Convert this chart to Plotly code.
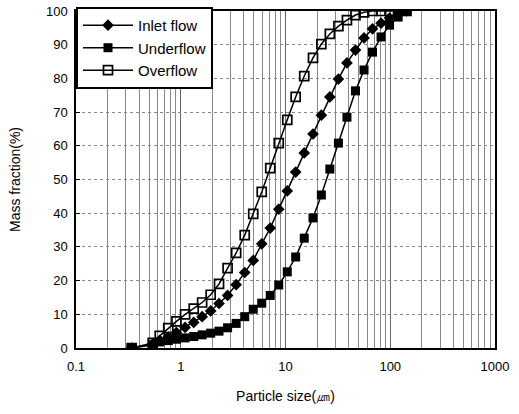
import plotly.graph_objects as go

particle_size_um = [0.34, 0.54, 0.63, 0.76, 0.91, 1.10, 1.33, 1.60, 1.93, 2.32,
                    2.80, 3.38, 4.08, 4.92, 5.93, 7.15, 8.62, 10.4, 12.5, 15.1,
                    18.3, 22.0, 26.5, 32.0, 38.6, 46.6, 56.2, 67.7, 81.7, 98.5,
                    119, 143]

inlet_flow = [0, 1.2, 2.3, 3.3, 4.6, 6.1, 7.6, 9.3, 11.0, 13.2,
              15.6, 18.8, 22.4, 26.0, 30.9, 35.6, 41.2, 46.6, 52.2, 57.9,
              63.5, 69.1, 74.5, 79.8, 84.6, 88.4, 92.0, 94.7, 96.4, 97.9,
              99.1, 100]

underflow = [0, 0.9, 1.8, 2.2, 2.6, 3.0, 3.4, 3.9, 4.4, 5.0,
             6.0, 7.3, 9.3, 11.5, 13.3, 15.6, 18.7, 22.6, 27.0, 32.6,
             38.6, 45.4, 53.1, 60.8, 68.5, 76.3, 82.5, 87.8, 92.3, 95.8,
             98.2, 100]

overflow = [0, 1.5, 3.6, 5.9, 7.9, 10.0, 11.7, 13.5, 15.8, 19.0,
            23.7, 28.2, 33.5, 39.8, 46.3, 53.4, 60.8, 67.7, 74.5, 80.7,
            86.1, 90.2, 93.2, 95.5, 97.3, 98.8, 99.6, 100, 100, 100,
            100, 100]

x_tickvals = [0.1, 1, 10, 100, 1000]
x_ticktext = ["0.1", "1", "10", "100", "1000"]
y_tickvals = [0, 10, 20, 30, 40, 50, 60, 70, 80, 90, 100]

fig = go.Figure()
fig.add_trace(go.Scatter(
    x=particle_size_um, y=inlet_flow, name="Inlet flow", mode="lines+markers",
    line=dict(color="black", width=1.5),
    marker=dict(symbol="diamond", size=9, color="black")))
fig.add_trace(go.Scatter(
    x=particle_size_um, y=underflow, name="Underflow", mode="lines+markers",
    line=dict(color="black", width=1.5),
    marker=dict(symbol="square", size=9, color="black")))
fig.add_trace(go.Scatter(
    x=particle_size_um, y=overflow, name="Overflow", mode="lines+markers",
    line=dict(color="black", width=1.5),
    marker=dict(symbol="square-open", size=9, color="black",
                line=dict(width=1.7, color="black"))))

fig.update_layout(
    width=519, height=414,
    margin=dict(l=76, r=24, t=11, b=66, autoexpand=False),
    paper_bgcolor="white", plot_bgcolor="white",
    font=dict(family="Liberation Sans, Arial, sans-serif", size=13, color="black"),
    showlegend=True,
    legend=dict(x=0, y=1.012, xanchor="left", yanchor="top",
                bgcolor="white", bordercolor="black", borderwidth=2,
                font=dict(size=15), itemwidth=50, tracegroupgap=0),
    xaxis=dict(
        type="log", range=[-1, 3], automargin=False,
        tickvals=x_tickvals, ticktext=x_ticktext, ticklabelstandoff=6,
        showgrid=True, gridcolor="#666", gridwidth=1,
        minor=dict(dtick="D1", showgrid=True, gridcolor="#888", gridwidth=1,
                   ticks=""),
        showline=True, linecolor="black", linewidth=1.5, mirror=True,
        ticks="", zeroline=False,
        title=dict(text="Particle size(㎛)", font=dict(size=14), standoff=18),
    ),
    yaxis=dict(
        range=[0, 100], tickvals=y_tickvals, automargin=False,
        ticklabelstandoff=4,
        showgrid=True, gridcolor="#888", gridwidth=1, griddash="dot",
        showline=True, linecolor="black", linewidth=1.5, mirror=True,
        ticks="inside", ticklen=4, tickcolor="black", zeroline=False,
        title=dict(text="Mass fraction(%)", font=dict(size=14), standoff=22),
    ),
)

fig.write_html("out.html", config={"displayModeBar": False},
               post_script="document.body.style.margin='0';")
